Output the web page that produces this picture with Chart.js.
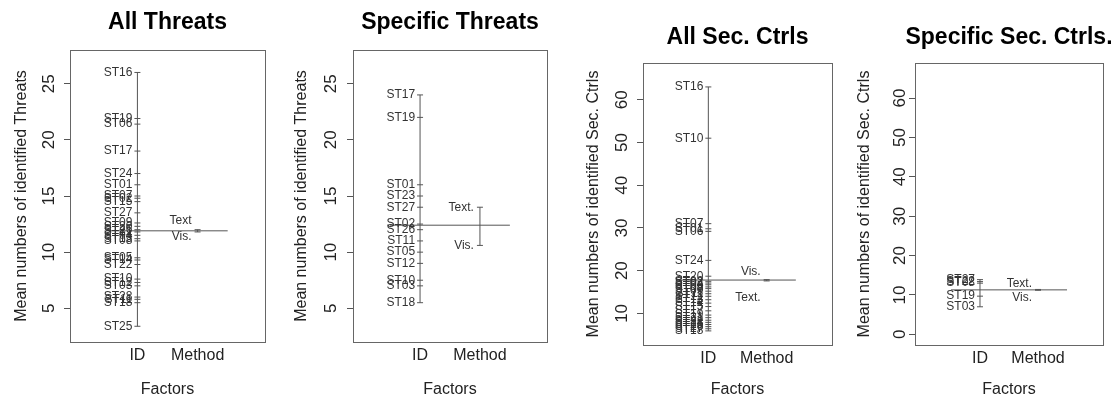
<!DOCTYPE html>
<html lang="en">
<head>
<meta charset="UTF-8">
<title>Design plots - Threats / Sec. Ctrls</title>
<script src="https://cdn.jsdelivr.net/npm/chart.js@4.4.1/dist/chart.umd.min.js"></script>
<style>
    html, body { margin: 0; padding: 0; background: #ffffff; overflow: hidden; }
    #quadro { position: relative; width: 1111px; height: 398px; }
    #quadro canvas { position: absolute; top: 0; }
</style>
</head>
<body>
<div id="quadro">
    <canvas id="painel1" width="280" height="398" style="left:0px"></canvas>
    <canvas id="painel2" width="280" height="398" style="left:280px"></canvas>
    <canvas id="painel3" width="280" height="398" style="left:560px"></canvas>
    <canvas id="painel4" width="271" height="398" style="left:840px"></canvas>
</div>
<script>
// ==========================================
// DADOS
// ==========================================
const fatores = ["ID", "Method"];

// All Threats
const idsTodasAmeacas = ["ST16", "ST19", "ST06", "ST17", "ST24", "ST01", "ST07", "ST02", "ST15", "ST27", "ST09", "ST20", "ST26", "ST21", "ST04", "ST13", "ST08", "ST05", "ST14", "ST22", "ST10", "ST12", "ST03", "ST28", "ST11", "ST18", "ST25"];
const valoresTodasAmeacas = [26.0, 21.9, 21.4, 19.0, 17.0, 16.0, 15.0, 14.8, 14.5, 13.5, 12.6, 12.3, 12.0, 11.8, 11.5, 11.2, 11.0, 9.5, 9.3, 8.9, 7.6, 7.3, 7.0, 6.0, 5.8, 5.5, 3.4];
const metodosTodasAmeacas = ["Text", "Vis."];
const valoresMetodoTodasAmeacas = [12.0, 11.8];
const mediaTodasAmeacas = 11.9;

// Specific Threats
const idsAmeacasEspecificas = ["ST17", "ST19", "ST01", "ST23", "ST27", "ST02", "ST26", "ST11", "ST05", "ST12", "ST10", "ST03", "ST18"];
const valoresAmeacasEspecificas = [24.0, 22.0, 16.0, 15.0, 14.0, 12.5, 12.0, 11.0, 10.0, 9.0, 7.5, 7.0, 5.5];
const metodosAmeacasEspecificas = ["Text.", "Vis."];
const valoresMetodoAmeacasEspecificas = [14.0, 10.6];
const mediaAmeacasEspecificas = 12.4;

// All Sec. Ctrls
const idsTodosControles = ["ST16", "ST10", "ST07", "ST01", "ST06", "ST24", "ST20", "ST02", "ST03", "ST04", "ST05", "ST08", "ST09", "ST11", "ST12", "ST13", "ST14", "ST15", "ST17", "ST19", "ST21", "ST22", "ST23", "ST25", "ST26", "ST27", "ST18"];
const valoresTodosControles = [63.0, 51.0, 31.0, 29.8, 29.2, 22.4, 18.7, 17.5, 17.1, 16.7, 16.2, 15.8, 15.2, 14.6, 14.0, 13.2, 12.4, 11.6, 10.6, 9.6, 9.0, 8.4, 7.9, 7.4, 6.9, 6.4, 5.9];
const metodosTodosControles = ["Text.", "Vis."];
const valoresMetodoTodosControles = [17.6, 17.9];
const mediaTodosControles = 17.8;

// Specific Sec. Ctrls.
const idsControlesEspecificos = ["ST27", "ST22", "ST08", "ST19", "ST03"];
const valoresControlesEspecificos = [13.9, 13.4, 13.0, 9.7, 7.0];
const metodosControlesEspecificos = ["Text.", "Vis."];
const valoresMetodoControlesEspecificos = [11.4, 11.2];
const mediaControlesEspecificos = 11.3;

// Marcas dos eixos Y
const ticksAmeacas = [5, 10, 15, 20, 25];
const ticksTodosControles = [10, 20, 30, 40, 50, 60];
const ticksControlesEspecificos = [0, 10, 20, 30, 40, 50, 60];

// ==========================================
// ESTILO
// ==========================================
const FONTE = '"Liberation Sans", Arial, Helvetica, sans-serif';
const COR_LINHA = "#555555";
const COR_CAIXA = "#666666";
const COR_TEXTO = "#222222";

Chart.defaults.font.family = FONTE;

document.addEventListener("DOMContentLoaded", function () {

    criarPainel("painel1", {
        titulo: "All Threats",
        tituloY: "Mean numbers of identified Threats",
        ids: idsTodasAmeacas, valores: valoresTodasAmeacas,
        metodos: metodosTodasAmeacas, valoresMetodo: valoresMetodoTodasAmeacas,
        media: mediaTodasAmeacas, ticksY: ticksAmeacas, yMin: 2, yMax: 28,
        layout: { topo: 50, direita: 15, alturaX: 56, larguraY: 70, recuoTituloY: 12.4, yTitulo: 23, recuoNumY: 21, deslocMetodo: [-9, 5] }
    });

    criarPainel("painel2", {
        titulo: "Specific Threats",
        tituloY: "Mean numbers of identified Threats",
        ids: idsAmeacasEspecificas, valores: valoresAmeacasEspecificas,
        metodos: metodosAmeacasEspecificas, valoresMetodo: valoresMetodoAmeacasEspecificas,
        media: mediaAmeacasEspecificas, ticksY: ticksAmeacas, yMin: 2, yMax: 28,
        layout: { topo: 50, direita: 13, alturaX: 56, larguraY: 73, recuoTituloY: 12.1, yTitulo: 23, recuoNumY: 22, deslocMetodo: [0, 0] }
    });

    criarPainel("painel3", {
        titulo: "All Sec. Ctrls",
        tituloY: "Mean numbers of identified Sec. Ctrls",
        ids: idsTodosControles, valores: valoresTodosControles,
        metodos: metodosTodosControles, valoresMetodo: valoresMetodoTodosControles,
        media: mediaTodosControles, ticksY: ticksTodosControles, yMin: 2.6, yMax: 68.6,
        layout: { topo: 63, direita: 8, alturaX: 53, larguraY: 83, recuoTituloY: 23.7, yTitulo: 37.5, recuoNumY: 21, deslocMetodo: [17, -8] }
    });

    criarPainel("painel4", {
        titulo: "Specific Sec. Ctrls.",
        tituloY: "Mean numbers of identified Sec. Ctrls",
        ids: idsControlesEspecificos, valores: valoresControlesEspecificos,
        metodos: metodosControlesEspecificos, valoresMetodo: valoresMetodoControlesEspecificos,
        media: mediaControlesEspecificos, ticksY: ticksControlesEspecificos, yMin: -2.7, yMax: 68.9,
        layout: { topo: 63, direita: 8, alturaX: 53, larguraY: 75, recuoTituloY: 15.4, yTitulo: 37.5, recuoNumY: 15, deslocMetodo: [-5.5, 7] }
    });

});

// ==========================================
// PAINEL (plot.design estilo R)
// ==========================================
function criarPainel(idCanvas, p) {
    const ctx = document.getElementById(idCanvas);
    if (!ctx) return;

    const l = p.layout;
    const minId = Math.min(...p.valores);
    const maxId = Math.max(...p.valores);
    const minMet = Math.min(...p.valoresMetodo);
    const maxMet = Math.max(...p.valoresMetodo);

    const linha = { showLine: true, borderColor: COR_LINHA, borderWidth: 1, pointRadius: 0, fill: false };
    const marcas = { showLine: false, pointStyle: "line", pointRadius: 3, borderColor: COR_LINHA, borderWidth: 1 };

    // textos: caixa, titulo, numeros do eixo Y, rotulos dos IDs e do metodo
    const textos = {
        id: "textos_" + idCanvas,
        afterDatasetsDraw(chart) {
            const c = chart.ctx;
            const a = chart.chartArea;
            const x = chart.scales.x;
            const y = chart.scales.y;

            c.save();
            c.strokeStyle = COR_CAIXA;
            c.lineWidth = 1;
            c.strokeRect(Math.round(a.left) + 0.5, Math.round(a.top) + 0.5,
                Math.round(a.right - a.left), Math.round(a.bottom - a.top));

            c.fillStyle = "#000";
            c.font = "bold 23px " + FONTE;
            c.textAlign = "center";
            c.textBaseline = "middle";
            c.fillText(p.titulo, (a.left + a.right) / 2, l.yTitulo);

            c.fillStyle = COR_TEXTO;
            c.font = "17px " + FONTE;
            y.ticks.forEach(function (t) {
                c.save();
                c.translate(a.left - l.recuoNumY, y.getPixelForValue(t.value));
                c.rotate(-Math.PI / 2);
                c.fillText(String(t.value), 0, 0);
                c.restore();
            });

            c.fillStyle = "#333";
            c.font = "12px " + FONTE;
            c.textAlign = "right";
            const x1 = x.getPixelForValue(1);
            p.ids.forEach(function (id, i) {
                c.fillText(id, x1 - 5, y.getPixelForValue(p.valores[i]));
            });

            const x2 = x.getPixelForValue(2);
            p.metodos.forEach(function (m, i) {
                c.fillText(m, x2 - 6, y.getPixelForValue(p.valoresMetodo[i]) + l.deslocMetodo[i]);
            });
            c.restore();
        }
    };

    new Chart(ctx, {
        type: "scatter",
        data: {
            datasets: [
                Object.assign({ data: [{ x: 1, y: minId }, { x: 1, y: maxId }] }, linha),
                Object.assign({ data: p.valores.map(v => ({ x: 1, y: v })) }, marcas),
                Object.assign({ data: [{ x: 2, y: minMet }, { x: 2, y: maxMet }] }, linha),
                Object.assign({ data: p.valoresMetodo.map(v => ({ x: 2, y: v })) }, marcas),
                Object.assign({ data: [{ x: 0.5, y: p.media }, { x: 2.5, y: p.media }] }, linha)
            ]
        },
        options: {
            responsive: false,
            animation: false,
            layout: { padding: { left: 0, top: l.topo, right: l.direita, bottom: 0 } },
            plugins: {
                legend: { display: false },
                tooltip: { enabled: false },
                title: { display: false }
            },
            scales: {
                x: {
                    type: "linear",
                    min: -0.12,
                    max: 3.12,
                    afterBuildTicks: function (s) { s.ticks = [{ value: 1 }, { value: 2 }]; },
                    afterFit: function (s) { s.height = l.alturaX; },
                    grid: { display: false, drawTicks: false },
                    border: { display: false },
                    ticks: {
                        autoSkip: false,
                        maxRotation: 0,
                        padding: 4,
                        color: COR_TEXTO,
                        font: { size: 16 },
                        callback: function (v, i) { return fatores[i]; }
                    },
                    title: {
                        display: true,
                        text: "Factors",
                        color: COR_TEXTO,
                        font: { size: 16 },
                        padding: { top: 0, bottom: -1 }
                    }
                },
                y: {
                    type: "linear",
                    min: p.yMin,
                    max: p.yMax,
                    afterBuildTicks: function (s) { s.ticks = p.ticksY.map(v => ({ value: v })); },
                    afterFit: function (s) { s.width = l.larguraY; },
                    grid: { drawOnChartArea: false, drawTicks: true, tickLength: 6, color: COR_LINHA },
                    border: { display: false },
                    ticks: { display: false },
                    title: {
                        display: true,
                        text: p.tituloY,
                        color: COR_TEXTO,
                        font: { size: 16 },
                        padding: { top: l.recuoTituloY, bottom: 0 }
                    }
                }
            }
        },
        plugins: [textos]
    });
}
</script>
</body>
</html>
